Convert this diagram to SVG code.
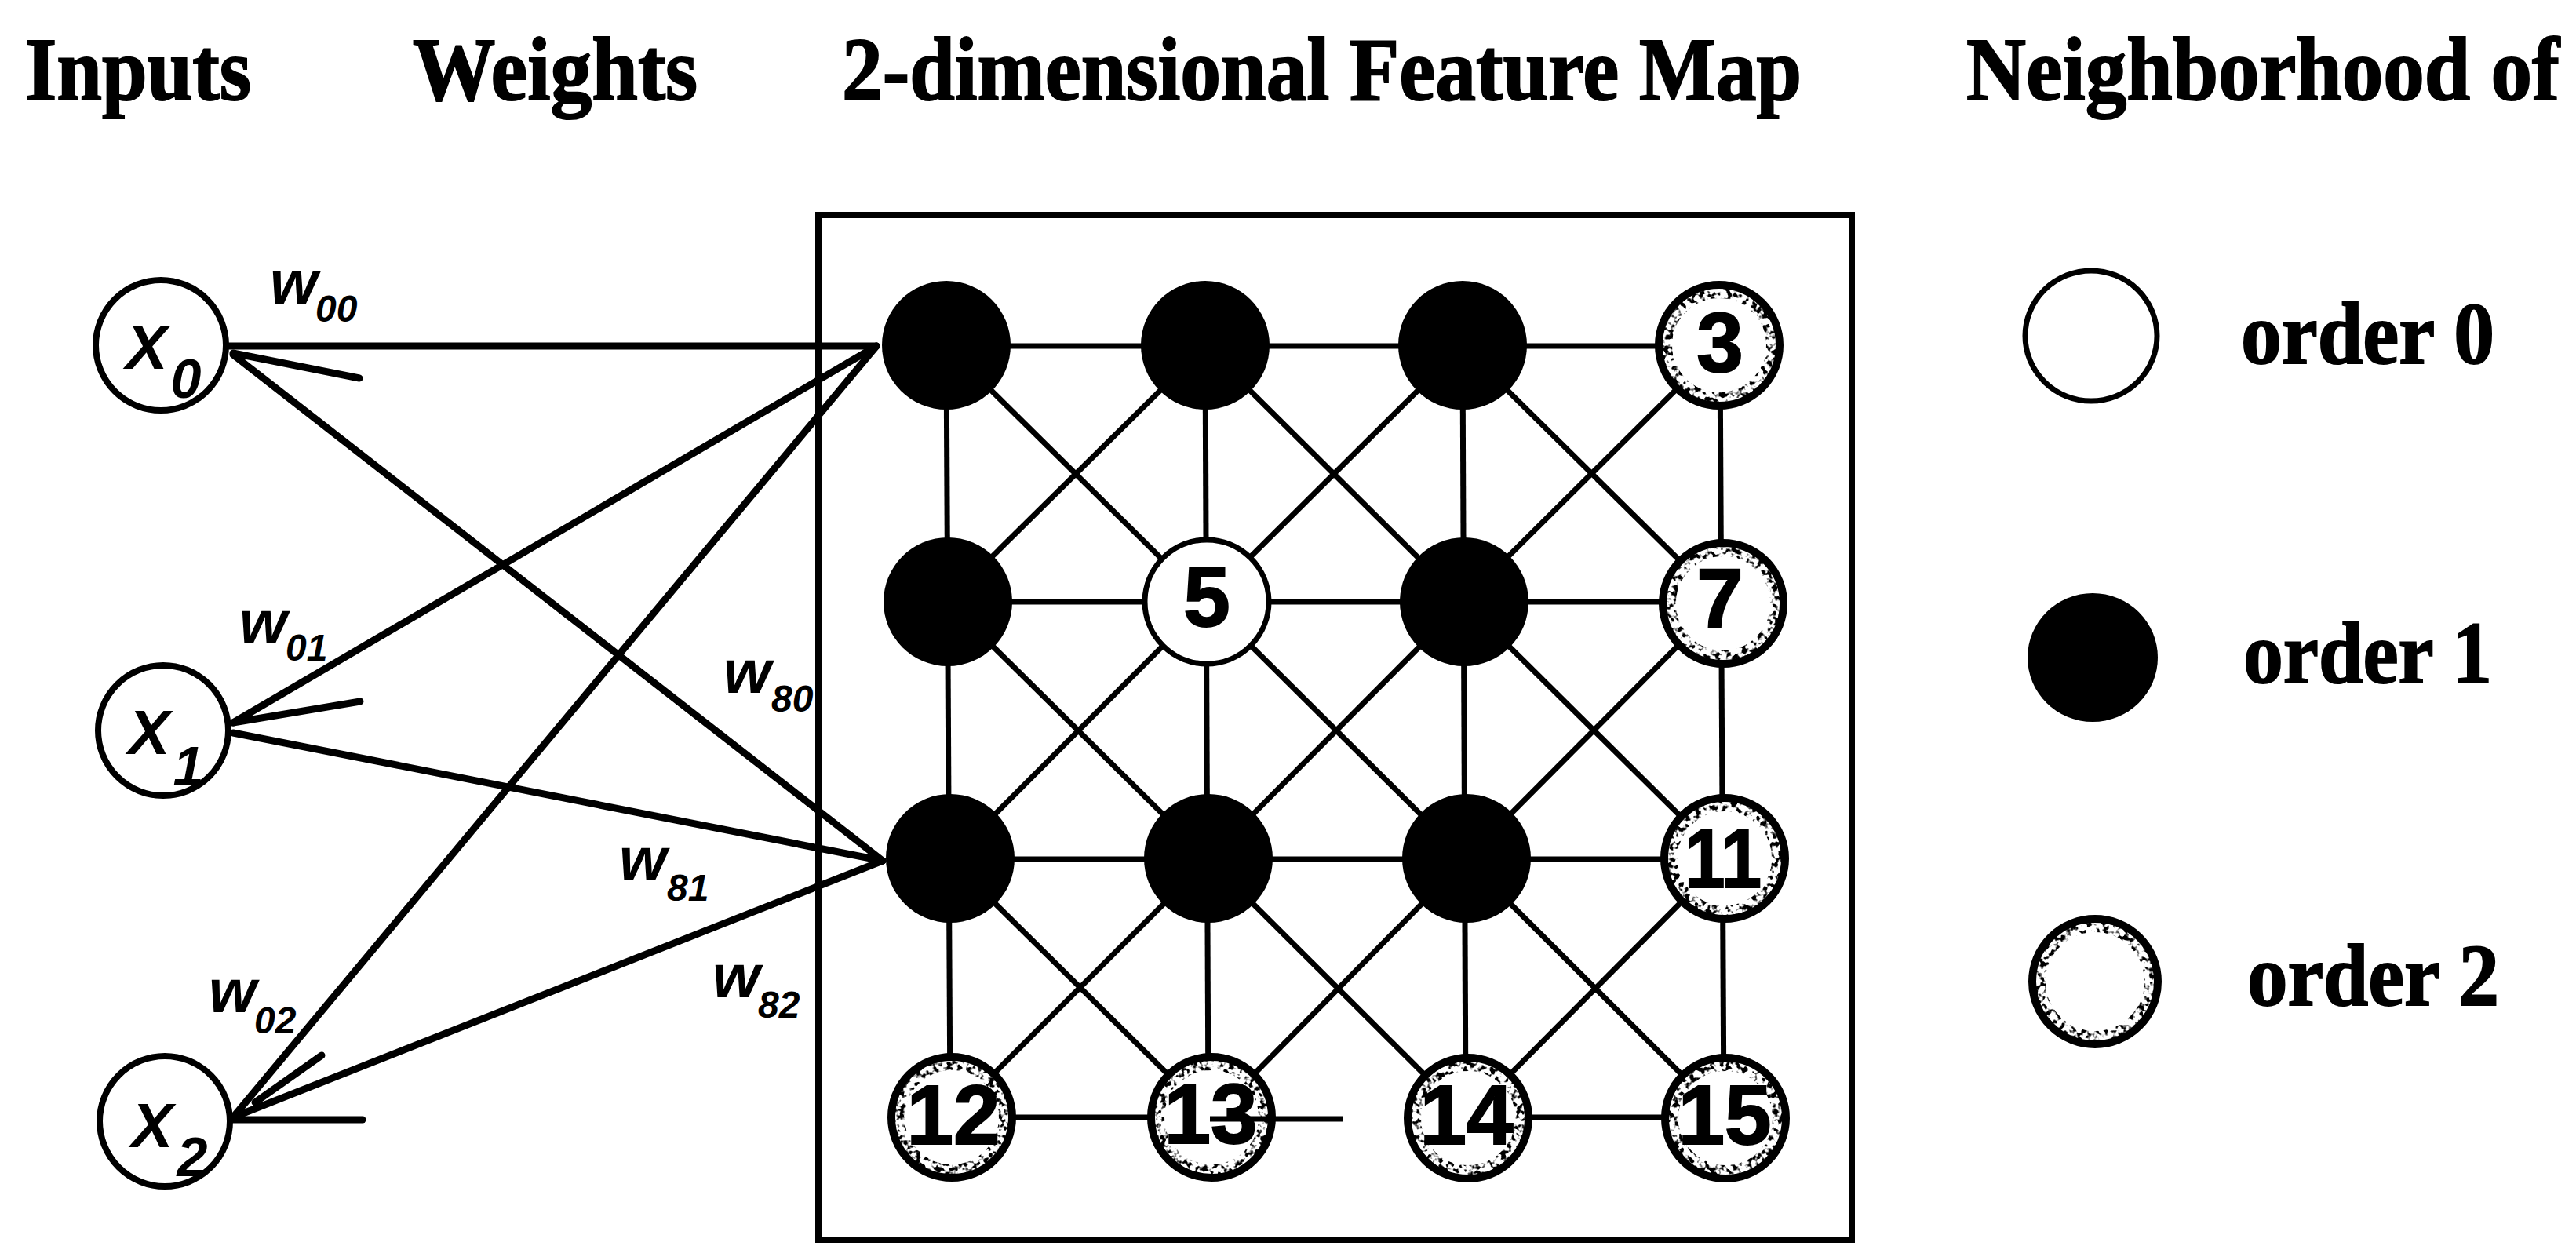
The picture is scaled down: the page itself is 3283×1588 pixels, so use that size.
<svg xmlns="http://www.w3.org/2000/svg" width="3283" height="1588" viewBox="0 0 3283 1588">
<style>
.title{font-family:"Liberation Serif","Times New Roman",serif;font-weight:bold;font-size:115px;fill:#000;stroke:#000;stroke-width:2}
.leg{font-family:"Liberation Serif","Times New Roman",serif;font-weight:bold;font-size:112px;fill:#000;stroke:#000;stroke-width:2}
.xl{font-family:"Liberation Sans",Arial,sans-serif;font-weight:bold;font-style:italic;font-size:80px;fill:#000;text-anchor:middle}
.xs{font-size:70px}
.wl{font-family:"Liberation Sans",Arial,sans-serif;font-weight:bold;font-style:italic;font-size:78px;fill:#000}
.ws{font-size:48px}
.num{font-family:"Liberation Sans",Arial,sans-serif;font-weight:bold;font-size:107px;fill:#000;text-anchor:middle;stroke:#000;stroke-width:2}
.inp{fill:#fff;stroke:#000;stroke-width:8}
.o0{fill:#fff;stroke:#000;stroke-width:7}
.o1{fill:#000;stroke:none}
.o2{fill:#fff;stroke:#000;stroke-width:10}
.o2g{fill:none;stroke:#000;stroke-width:14}
.wline{stroke:#000;stroke-width:9;stroke-linecap:round;fill:none}
.gline{stroke:#000;stroke-width:7;fill:none}
.frame{fill:none;stroke:#000;stroke-width:8}
</style>
<defs>
<filter id="grain" x="-20%" y="-20%" width="140%" height="140%">
<feTurbulence type="fractalNoise" baseFrequency="0.15" numOctaves="2" seed="7" result="noise"/>
<feColorMatrix in="noise" type="matrix" values="0 0 0 0 0  0 0 0 0 0  0 0 0 0 0  7 0 0 0 -3.4" result="mask"/>
<feComposite in="SourceGraphic" in2="mask" operator="in"/>
</filter>
</defs>
<rect width="3283" height="1588" fill="#fff"/>

<g id="titles">
<text class="title" x="32" y="127" textLength="288" lengthAdjust="spacingAndGlyphs">Inputs</text>
<text class="title" x="526" y="127" textLength="363" lengthAdjust="spacingAndGlyphs">Weights</text>
<text class="title" x="1073" y="127" textLength="1223" lengthAdjust="spacingAndGlyphs">2-dimensional Feature Map</text>
<text class="title" x="2506" y="127" textLength="756" lengthAdjust="spacingAndGlyphs">Neighborhood of</text>
</g>

<rect id="feature-map-frame" class="frame" x="1043" y="274" width="1317" height="1306"/>

<g id="connectors">
<line class="wline" x1="292" y1="441" x2="1117" y2="441"/>
<line class="wline" x1="297" y1="450" x2="458" y2="482"/>
<line class="wline" x1="297" y1="452" x2="1125" y2="1097"/>
<line class="wline" x1="1117" y1="441" x2="297" y2="921"/>
<line class="wline" x1="297" y1="921" x2="459" y2="894"/>
<line class="wline" x1="297" y1="934" x2="1125" y2="1097"/>
<line class="wline" x1="1117" y1="441" x2="297" y2="1424"/>
<line class="wline" x1="1125" y1="1097" x2="297" y2="1424"/>
<line class="wline" x1="325" y1="1405" x2="410" y2="1345"/>
<line class="wline" x1="297" y1="1427" x2="462" y2="1427"/>
<line class="gline" x1="1206" y1="441" x2="2192" y2="441"/>
<line class="gline" x1="1206" y1="767" x2="2194" y2="767"/>
<line class="gline" x1="1211" y1="1095" x2="2197" y2="1095"/>
<line class="gline" x1="1211" y1="1424" x2="1544" y2="1424"/>
<line class="gline" x1="1868" y1="1424" x2="2197" y2="1424"/>
<line class="gline" x1="1206" y1="441" x2="1211" y2="1424"/>
<line class="gline" x1="1536" y1="441" x2="1540" y2="1424"/>
<line class="gline" x1="1864" y1="441" x2="1868" y2="1424"/>
<line class="gline" x1="2192" y1="441" x2="2197" y2="1424"/>
<line class="gline" x1="1206" y1="441" x2="1536" y2="767"/>
<line class="gline" x1="1536" y1="441" x2="1206" y2="767"/>
<line class="gline" x1="1536" y1="441" x2="1864" y2="767"/>
<line class="gline" x1="1864" y1="441" x2="1536" y2="767"/>
<line class="gline" x1="1864" y1="441" x2="2194" y2="767"/>
<line class="gline" x1="2192" y1="441" x2="1864" y2="767"/>
<line class="gline" x1="1208" y1="767" x2="1540" y2="1095"/>
<line class="gline" x1="1538" y1="767" x2="1211" y2="1095"/>
<line class="gline" x1="1538" y1="767" x2="1868" y2="1095"/>
<line class="gline" x1="1866" y1="767" x2="1540" y2="1095"/>
<line class="gline" x1="1866" y1="767" x2="2197" y2="1095"/>
<line class="gline" x1="2194" y1="767" x2="1868" y2="1095"/>
<line class="gline" x1="1211" y1="1095" x2="1544" y2="1424"/>
<line class="gline" x1="1540" y1="1095" x2="1211" y2="1424"/>
<line class="gline" x1="1540" y1="1095" x2="1870" y2="1424"/>
<line class="gline" x1="1868" y1="1095" x2="1544" y2="1424"/>
<line class="gline" x1="1868" y1="1095" x2="2198" y2="1424"/>
<line class="gline" x1="2197" y1="1095" x2="1870" y2="1424"/>
</g>

<g id="inputs">
<g id="x0"><circle class="inp" cx="205" cy="440" r="83"/><text class="xl" x="187" y="470">X</text><text class="xl xs" x="237" y="507">0</text></g>
<g id="x1"><circle class="inp" cx="208" cy="931" r="83"/><text class="xl" x="190" y="961">X</text><text class="xl xs" x="240" y="1001">1</text></g>
<g id="x2"><circle class="inp" cx="210" cy="1429" r="83"/><text class="xl" x="194" y="1462">X</text><text class="xl xs" x="245" y="1499">2</text></g>
</g>

<g id="weight-labels">
<text class="wl" x="344" y="387">w</text><text class="wl ws" x="402" y="410">00</text>
<text class="wl" x="305" y="820">w</text><text class="wl ws" x="364" y="842">01</text>
<text class="wl" x="922" y="883">w</text><text class="wl ws" x="983" y="907">80</text>
<text class="wl" x="789" y="1122">w</text><text class="wl ws" x="850" y="1148">81</text>
<text class="wl" x="266" y="1290">w</text><text class="wl ws" x="324" y="1317">02</text>
<text class="wl" x="908" y="1271">w</text><text class="wl ws" x="966" y="1297">82</text>
</g>

<g id="feature-map">
<g id="n0"><circle class="o1" cx="1206" cy="440" r="82"/></g>
<g id="n1"><circle class="o1" cx="1536" cy="440" r="82"/></g>
<g id="n2"><circle class="o1" cx="1864" cy="440" r="82"/></g>
<g id="n3"><circle class="o2" cx="2191" cy="440" r="77"/><circle class="o2g" cx="2191" cy="440" r="67" filter="url(#grain)"/><text class="num" x="2192" y="474">3</text></g>
<g id="n4"><circle class="o1" cx="1208" cy="767" r="82"/></g>
<g id="n5"><circle class="o0" cx="1538" cy="767" r="79"/><text class="num" x="1538" y="798">5</text></g>
<g id="n6"><circle class="o1" cx="1866" cy="767" r="82"/></g>
<g id="n7"><circle class="o2" cx="2196" cy="769" r="77"/><circle class="o2g" cx="2196" cy="769" r="67" filter="url(#grain)"/><text class="num" x="2192" y="800">7</text></g>
<g id="n8"><circle class="o1" cx="1211" cy="1094" r="82"/></g>
<g id="n9"><circle class="o1" cx="1540" cy="1094" r="82"/></g>
<g id="n10"><circle class="o1" cx="1869" cy="1094" r="82"/></g>
<g id="n11"><circle class="o2" cx="2198" cy="1094" r="77"/><circle class="o2g" cx="2198" cy="1094" r="67" filter="url(#grain)"/><text class="num" x="2196" y="1131" textLength="98" lengthAdjust="spacingAndGlyphs">11</text></g>
<g id="n12"><circle class="o2" cx="1213" cy="1424" r="77"/><circle class="o2g" cx="1213" cy="1424" r="67" filter="url(#grain)"/><text class="num" x="1215" y="1458">12</text></g>
<g id="n13"><circle class="o2" cx="1544" cy="1424" r="77"/><circle class="o2g" cx="1544" cy="1424" r="67" filter="url(#grain)"/><text class="num" x="1543" y="1457">13</text><line class="gline" x1="1542" y1="1426" x2="1712" y2="1426" stroke-width="9"/></g>
<g id="n14"><circle class="o2" cx="1871" cy="1425" r="77"/><circle class="o2g" cx="1871" cy="1425" r="67" filter="url(#grain)"/><text class="num" x="1869" y="1458">14</text></g>
<g id="n15"><circle class="o2" cx="2199" cy="1425" r="77"/><circle class="o2g" cx="2199" cy="1425" r="67" filter="url(#grain)"/><text class="num" x="2198" y="1458">15</text></g>
</g>

<g id="legend">
<g id="leg-order0"><ellipse class="o0" cx="2665" cy="428" rx="84" ry="83"/><text class="leg" x="2856" y="463" textLength="323" lengthAdjust="spacingAndGlyphs">order 0</text></g>
<g id="leg-order1"><ellipse class="o1" cx="2667" cy="838" rx="83" ry="82"/><text class="leg" x="2859" y="870" textLength="317" lengthAdjust="spacingAndGlyphs">order 1</text></g>
<g id="leg-order2"><circle class="o2" cx="2670" cy="1251" r="80"/><circle class="o2g" cx="2670" cy="1251" r="70" filter="url(#grain)"/><text class="leg" x="2864" y="1281" textLength="321" lengthAdjust="spacingAndGlyphs">order 2</text></g>
</g>
</svg>
